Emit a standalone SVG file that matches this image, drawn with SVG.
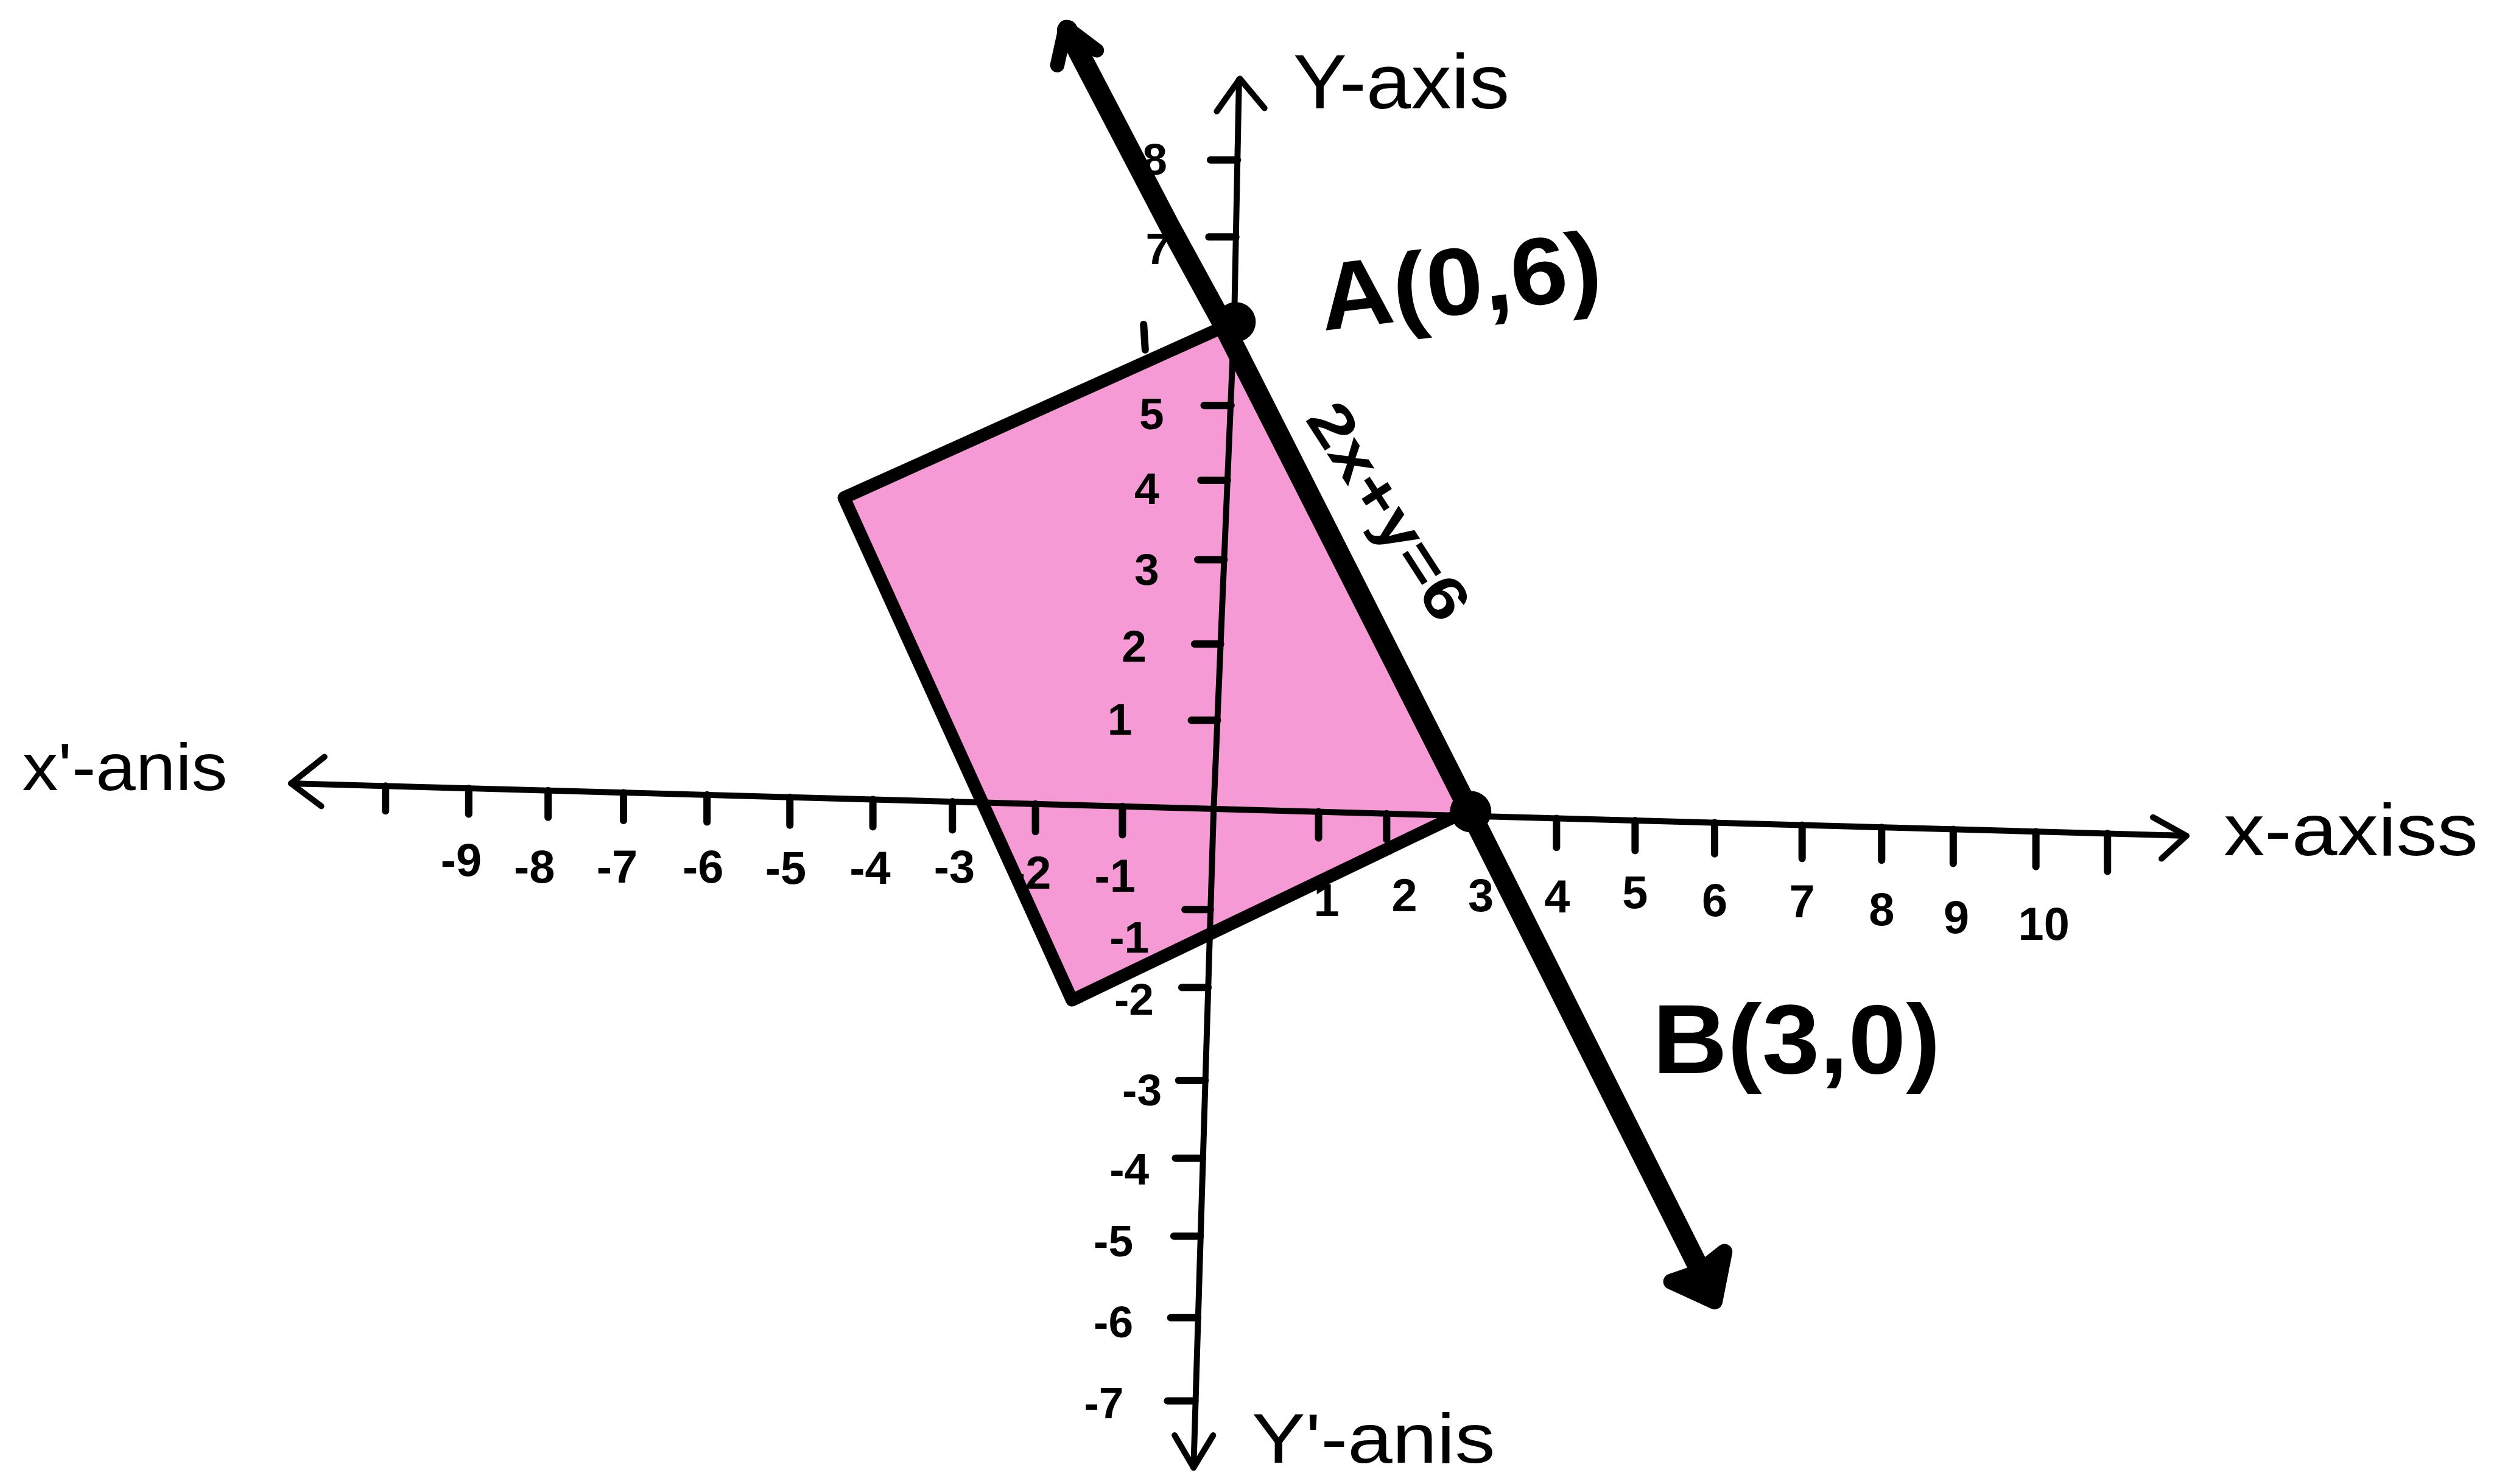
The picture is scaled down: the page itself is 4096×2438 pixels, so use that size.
<svg xmlns="http://www.w3.org/2000/svg" width="4096" height="2438" viewBox="0 0 4096 2438">
<style>
.ax{stroke:#000;stroke-width:3.8;fill:none;stroke-linecap:round;stroke-linejoin:round}
.tk{stroke:#000;stroke-width:4.6;fill:none;stroke-linecap:round}
.edge{stroke:#000;stroke-width:8;fill:none;stroke-linecap:round;stroke-linejoin:round}
.thick{stroke:#000;stroke-width:13;fill:none;stroke-linecap:round;stroke-linejoin:round}
.num{font-family:"Liberation Sans",Arial,sans-serif;font-weight:bold;fill:#000;text-anchor:middle}
.lbl{font-family:"Liberation Sans",Arial,sans-serif;fill:#000}
.big{font-family:"Liberation Sans",Arial,sans-serif;font-weight:bold;fill:#000}
</style>
<rect width="4096" height="2438" fill="#fff"/>
<g transform="scale(2.612245)">
  <g id="region">
    <polygon points="775,203 530.6,313 674,629 922,510" fill="#F59AD5"/>
  </g>
  <g id="axes">
    <polyline class="ax" points="779,50 776,200 763,510 750.4,923"/>
    <polyline class="ax" points="765,70 779.5,49.5 795,68"/>
    <polyline class="ax" points="738.5,902.7 750.4,923 762.7,902.7"/>
    <polyline class="ax" points="183,492.7 1374.6,525.6"/>
    <polyline class="ax" points="204,476 183,492.7 202,507"/>
    <polyline class="ax" points="1353.6,514 1374.6,525.6 1359,540"/>
    <path class="tk" d="M242.4 494.3V510 M294.7 495.8V512 M344.6 497.2V514 M392 498.5V516 M444.5 499.9V517 M496.6 501.4V519 M548.8 502.8V520 M598.8 504.2V522 M651 505.6V523 M705.7 507.1V525 M829 510.5V527 M871.8 511.7V528 M978.6 514.7V533 M1028 516V535 M1078 517.4V537 M1133 518.9V540 M1183 520.3V541 M1228 521.6V543 M1280 523V545 M1325 524.2V548"/>
    <path class="tk" d="M761 100.6H778 M760 149H777 M757 255H774 M755 302H771.7 M753 352H769.6 M751 405H767.4 M749 453H765.4 M745 572H761 M743 621H759.5 M741 679.5H757.7 M739 728.4H756.1 M738 777.4H754.6 M736 828.7H753 M734 881H751.3"/>
    <path class="tk" d="M719 204L720 220"/>
  </g>
  <g id="tick-labels">
    <g class="num" font-size="28">
      <text x="726" y="110">8</text>
      <text x="728" y="166">7</text>
      <text x="724" y="270">5</text>
      <text x="721" y="317">4</text>
      <text x="721" y="368">3</text>
      <text x="713" y="416">2</text>
      <text x="704" y="462">1</text>
      <text x="710" y="599">-1</text>
      <text x="713" y="638">-2</text>
      <text x="718" y="695">-3</text>
      <text x="710" y="745">-4</text>
      <text x="700" y="790">-5</text>
      <text x="700" y="841">-6</text>
      <text x="694" y="892">-7</text>
    </g>
    <g class="num" font-size="29">
      <text x="290" y="551">-9</text>
      <text x="336" y="555">-8</text>
      <text x="388" y="555">-7</text>
      <text x="442" y="555">-6</text>
      <text x="494" y="556">-5</text>
      <text x="547" y="556">-4</text>
      <text x="600" y="555">-3</text>
      <text x="648" y="559">-2</text>
      <text x="701" y="561">-1</text>
      <text x="834" y="576">1</text>
      <text x="883" y="573">2</text>
      <text x="931" y="573">3</text>
      <text x="979" y="574">4</text>
      <text x="1028" y="571">5</text>
      <text x="1078" y="576">6</text>
      <text x="1133" y="577">7</text>
      <text x="1183" y="582">8</text>
      <text x="1230" y="587">9</text>
      <text x="1285" y="591">10</text>
    </g>
  </g>
  <g id="region-edges">
    <polyline class="edge" points="775,203 530.6,313 674,629 922,510"/>
  </g>
  <g id="line-2x-y-6">
    <polyline class="thick" points="671,19 735,141.6 768,202 924,510 1077,815"/>
    <polyline class="thick" style="stroke-width:9" points="664.7,41 670,17 689.6,31.7"/>
    <polygon points="1050.7,806 1078,818.5 1084.2,787.3 1068,800" fill="#000" stroke="#000" stroke-width="10" stroke-linejoin="round"/>
  </g>
  <g id="point-A">
    <circle cx="777" cy="202.5" r="12.5"/>
  </g>
  <g id="point-B">
    <circle cx="924.6" cy="510.4" r="13"/>
  </g>
  <g id="labels">
    <text class="lbl" x="813" y="68" font-size="48" textLength="136" lengthAdjust="spacingAndGlyphs">Y-axis</text>
    <text class="lbl" x="14" y="497" font-size="42" textLength="129" lengthAdjust="spacingAndGlyphs">x'-anis</text>
    <text class="lbl" x="1398" y="538" font-size="46" textLength="160" lengthAdjust="spacingAndGlyphs">x-axiss</text>
    <text class="lbl" x="787" y="920" font-size="44" textLength="153" lengthAdjust="spacingAndGlyphs">Y'-anis</text>
    <text class="big" transform="translate(832,208) rotate(-6.9)" x="0" y="0" font-size="60" textLength="178" lengthAdjust="spacingAndGlyphs">A(0,6)</text>
    <text class="big" x="1039" y="675" font-size="62" textLength="181" lengthAdjust="spacingAndGlyphs">B(3,0)</text>
    <text class="big" transform="translate(874,321) rotate(57.1)" x="0" y="14" font-size="38" text-anchor="middle" textLength="155" lengthAdjust="spacingAndGlyphs">2x+y=6</text>
  </g>
</g>
</svg>
